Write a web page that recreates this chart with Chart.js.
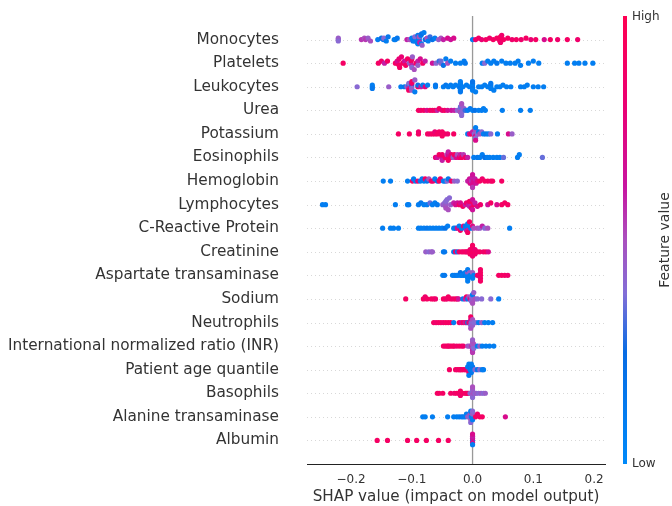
<!DOCTYPE html>
<html>
<head>
<meta charset="utf-8">
<script src="https://cdn.jsdelivr.net/npm/chart.js@4.4.1/dist/chart.umd.min.js"></script>
<style>
  html, body { margin: 0; padding: 0; background: #fff; }
  #wrap { width: 672px; height: 506px; }
</style>
</head>
<body>
<div id="wrap"><canvas id="shap"></canvas></div>
<script>
// feature names, top to bottom
const features = [
  "Monocytes", "Platelets", "Leukocytes", "Urea", "Potassium", "Eosinophils",
  "Hemoglobin", "Lymphocytes", "C-Reactive Protein", "Creatinine",
  "Aspartate transaminase", "Sodium", "Neutrophils",
  "International normalized ratio (INR)", "Patient age quantile", "Basophils",
  "Alanine transaminase", "Albumin"
];

// [shap value, feature value (0 = low, 1 = high)]
const monocytes = [
  [-0.221,.42],[-0.221,.45],[-0.221,.40],
  [-0.183,.55],[-0.178,.5],[-0.176,.55],[-0.172,.45],[-0.168,.5],
  [-0.156,.1],[-0.150,.2],[-0.147,.15],[-0.146,.4],[-0.142,.1],[-0.139,.15],
  [-0.129,.1],[-0.127,.1],[-0.124,.15],
  [-0.108,.6],[-0.104,.5],[-0.1,.1],[-0.098,.15],[-0.095,.1],[-0.095,.2],[-0.095,.1],[-0.095,.4],
  [-0.091,.1],[-0.09,.15],[-0.09,.1],[-0.088,.1],[-0.088,.15],[-0.088,.1],[-0.088,.5],
  [-0.087,.6],[-0.085,.1],[-0.084,.1],[-0.084,.2],[-0.083,.45],[-0.08,.1],[-0.078,.2],
  [-0.075,.5],[-0.073,.1],[-0.07,.3],
  [-0.066,.2],[-0.062,.1],[-0.056,.45],[-0.052,.5],[-0.048,.6],[-0.041,.7],[-0.036,.65],[-0.031,.7],
  [0.000,.1],
  [0.005,.85],[0.01,.9],[0.015,.8],[0.022,.9],[0.028,.85],[0.034,.9],
  [0.04,.9],[0.044,.85],[0.045,.9],[0.045,.9],[0.046,.95],[0.046,.85],[0.048,.85],[0.051,.9],
  [0.058,.9],[0.065,.85],[0.072,.9],[0.08,.85],[0.088,.9],[0.096,.8],[0.104,.9],[0.118,.7],
  [0.128,.9],[0.14,.85],[0.156,.9],[0.173,.85]
];
const platelets = [
  [-0.213,.9],
  [-0.155,.9],[-0.15,.85],[-0.145,.6],[-0.14,.9],
  [-0.127,.9],[-0.124,.85],[-0.124,.7],[-0.121,.9],[-0.121,.8],[-0.12,.9],[-0.117,.8],
  [-0.115,.9],[-0.112,.65],[-0.11,.9],
  [-0.107,.9],[-0.104,.45],[-0.101,.9],[-0.1,.6],[-0.1,.9],[-0.1,.4],[-0.099,.45],[-0.096,.5],
  [-0.093,.9],[-0.09,.6],[-0.09,.45],[-0.086,.7],[-0.082,.9],[-0.078,.6],
  [-0.066,.65],[-0.06,.4],[-0.055,.3],[-0.052,.45],[-0.052,.35],[-0.048,.2],[-0.044,.1],[-0.041,.5],
  [-0.036,.1],[-0.028,.1],[-0.02,.1],[-0.014,.1],[-0.012,.15],
  [0.016,.1],[0.02,.4],[0.025,.1],[0.03,.1],[0.035,.1],[0.04,.15],[0.048,.1],[0.055,.1],
  [0.062,.1],[0.07,.1],[0.075,.1],[0.079,.1],
  [0.092,.1],[0.1,.1],[0.109,.1],
  [0.156,.1],[0.168,.1],[0.175,.1],[0.185,.1],[0.198,.1]
];
const leukocytes = [
  [-0.19,.4],
  [-0.165,.1],[-0.165,.1],[-0.165,.15],
  [-0.138,.45],
  [-0.118,.1],[-0.112,.15],[-0.108,.45],[-0.105,.1],[-0.105,.6],[-0.105,.4],[-0.105,.9],
  [-0.1,.5],[-0.1,.2],[-0.1,.4],[-0.1,.8],[-0.1,.45],[-0.1,.9],[-0.095,.1],[-0.095,.45],
  [-0.09,.9],[-0.09,.2],[-0.085,.6],[-0.082,.1],[-0.078,.75],[-0.074,.1],
  [-0.061,.1],[-0.061,.15],
  [-0.048,.1],[-0.044,.15],[-0.04,.1],[-0.036,.1],[-0.032,.1],[-0.028,.1],[-0.022,.1],
  [-0.02,.1],[-0.02,.15],[-0.02,.1],[-0.02,.1],[-0.02,.1],[-0.02,.15],[-0.016,.1],[-0.01,.1],
  [-0.005,.1],[0.0,.1],[0.0,.1],[0.0,.15],[0.0,.1],[0.0,.1],[0.0,.2],
  [0.005,.1],[0.01,.1],[0.015,.1],[0.02,.1],[0.025,.1],[0.03,.1],[0.03,.1],[0.03,.1],[0.03,.15],
  [0.035,.1],[0.04,.1],[0.045,.1],[0.05,.1],[0.056,.1],[0.063,.1],
  [0.079,.1],[0.085,.1],[0.09,.1],[0.1,.1],[0.108,.1],[0.117,.1]
];
const urea = [
  [-0.089,.9],[-0.085,.85],[-0.08,.9],[-0.075,.7],[-0.07,.9],[-0.066,.85],[-0.062,.9],
  [-0.058,.6],[-0.055,.9],[-0.05,.8],[-0.046,.9],[-0.041,.7],
  [-0.035,.65],[-0.03,.6],
  [-0.025,.4],[-0.022,.45],[-0.02,.4],[-0.02,.5],[-0.02,.35],[-0.018,.4],[-0.018,.45],
  [-0.018,.4],[-0.018,.5],[-0.016,.4],[-0.014,.45],[-0.012,.3],
  [-0.008,.1],[-0.004,.15],[0.0,.1],[0.004,.2],[0.01,.1],[0.015,.1],[0.018,.1],[0.021,.1],
  [0.049,.1],[0.079,.1],[0.095,.1]
];
const potassium = [
  [-0.122,.9],[-0.104,.9],[-0.089,.9],[-0.089,.85],
  [-0.074,.9],[-0.07,.85],[-0.066,.9],[-0.062,.9],[-0.062,.8],[-0.058,.9],[-0.055,.9],
  [-0.052,.85],[-0.05,.9],[-0.05,.9],[-0.046,.9],[-0.041,.85],
  [-0.031,.9],
  [-0.008,.1],[-0.005,.7],[-0.002,.9],[0.0,.6],[0.003,.4],[0.005,.45],[0.005,.7],[0.005,.5],
  [0.005,.4],[0.005,.1],[0.005,.7],[0.008,.4],
  [0.01,.1],[0.012,.5],[0.015,.4],[0.018,.1],[0.022,.15],[0.026,.1],[0.03,.4],
  [0.041,.1],[0.059,.7],[0.065,.45]
];
const eosinophils = [
  [-0.061,.8],[-0.058,.65],[-0.055,.9],[-0.05,.7],[-0.05,.85],[-0.05,.6],[-0.045,.9],
  [-0.042,.5],[-0.04,.85],[-0.04,.7],[-0.04,.9],[-0.04,.6],[-0.036,.9],[-0.035,.8],
  [-0.032,.45],[-0.03,.9],[-0.027,.7],[-0.025,.5],
  [-0.022,.8],[-0.02,.6],[-0.018,.9],[-0.015,.55],[-0.012,.85],[-0.008,.6],
  [0.002,.1],[0.008,.15],[0.012,.1],[0.016,.1],[0.02,.2],[0.024,.1],[0.028,.1],[0.034,.1],
  [0.04,.1],[0.045,.1],[0.051,.35],
  [0.074,.1],[0.077,.1],[0.115,.35]
];
const hemoglobin = [
  [-0.147,.1],[-0.135,.1],[-0.107,.1],
  [-0.099,.9],[-0.097,.1],[-0.094,.1],[-0.09,.85],[-0.086,.1],[-0.083,.1],[-0.08,.1],
  [-0.078,.9],[-0.075,.15],[-0.072,.5],[-0.068,.9],[-0.065,.85],[-0.062,.1],[-0.058,.2],
  [-0.055,.9],[-0.053,.9],
  [-0.048,.1],[-0.045,.1],[-0.042,.4],[-0.04,.15],[-0.035,.9],[-0.03,.45],[-0.025,.4],
  [-0.008,.6],[-0.005,.65],[-0.004,.7],[-0.002,.55],[0.0,.6],[0.0,.65],[0.0,.6],[0.0,.7],
  [0.0,.65],[0.0,.55],[0.002,.7],[0.004,.6],[0.006,.65],[0.008,.75],
  [0.012,.9],[0.016,.85],[0.02,.9],[0.025,.9],[0.03,.85],[0.033,.9],[0.048,.9]
];
const lymphocytes = [
  [-0.247,.1],[-0.242,.1],
  [-0.127,.1],[-0.107,.1],[-0.105,.1],
  [-0.089,.1],[-0.085,.15],[-0.08,.1],[-0.075,.1],[-0.07,.35],[-0.066,.1],[-0.062,.1],[-0.058,.15],
  [-0.049,.45],[-0.046,.4],[-0.044,.5],[-0.044,.45],[-0.044,.45],[-0.044,.4],[-0.044,.5],
  [-0.042,.4],[-0.04,.5],[-0.038,.4],[-0.036,.45],
  [-0.031,.6],[-0.028,.7],[-0.025,.65],[-0.022,.9],[-0.02,.7],[-0.016,.9],[-0.012,.6],
  [-0.01,.85],[-0.006,.6],[-0.005,.7],[-0.005,.6],[-0.005,.9],[-0.002,.8],[0.0,.65],[0.0,.65],
  [0.002,.9],[0.004,.6],[0.008,.7],[0.013,.85],
  [0.025,.65],[0.03,.9],[0.04,.7],[0.048,.9],[0.053,.9],[0.058,.9]
];
const crp = [
  [-0.148,.1],[-0.135,.1],[-0.13,.1],[-0.122,.1],
  [-0.089,.1],[-0.085,.1],[-0.08,.1],[-0.075,.15],[-0.07,.1],[-0.065,.1],[-0.06,.1],
  [-0.055,.1],[-0.05,.1],[-0.045,.2],[-0.041,.1],
  [-0.031,.1],[-0.028,.15],[-0.025,.7],[-0.022,.1],[-0.02,.9],[-0.018,.1],[-0.015,.8],
  [-0.012,.1],[-0.012,.15],[-0.01,.6],[-0.008,.1],[-0.008,.1],[-0.008,.6],[-0.008,.1],
  [-0.008,.9],[-0.005,.9],[-0.003,.1],[0.0,.75],[0.002,.5],
  [0.008,.5],[0.012,.45],[0.016,.6],[0.02,.4],[0.025,.5],
  [0.061,.1]
];
const creatinine = [
  [-0.077,.45],[-0.072,.4],[-0.068,.45],[-0.066,.45],
  [-0.048,.1],[-0.046,.15],
  [-0.031,.1],[-0.028,.9],[-0.025,.1],[-0.022,.85],[-0.018,.9],[-0.015,.85],[-0.012,.9],
  [-0.01,.9],[-0.008,.8],[-0.006,.9],[-0.004,.85],[-0.004,.9],[-0.002,.9],[0.0,.9],[0.0,.85],
  [0.0,.9],[0.0,.9],[0.0,.85],[0.0,.9],[0.002,.9],
  [0.004,.8],[0.004,.85],[0.006,.9],[0.008,.85],[0.012,.9],
  [0.018,.85],[0.022,.9],[0.026,.7]
];
const ast = [
  [-0.049,.1],[-0.046,.15],
  [-0.033,.1],[-0.03,.1],[-0.027,.15],[-0.024,.1],[-0.02,.1],[-0.02,.2],[-0.018,.1],
  [-0.015,.1],[-0.012,.15],[-0.012,.1],[-0.01,.1],[-0.008,.5],[-0.008,.1],[-0.008,.1],
  [-0.008,.1],[-0.006,.1],[-0.005,.45],[-0.004,.1],
  [-0.002,.1],[0.0,.45],[0.0,.1],[0.002,.1],
  [0.008,.85],[0.013,.9],[0.013,.9],[0.013,.85],[0.013,.9],[0.013,.9],
  [0.043,.9],[0.048,.9],[0.053,.9],[0.058,.85]
];
const sodium = [
  [-0.11,.9],
  [-0.081,.9],[-0.078,.85],[-0.075,.9],[-0.068,.9],[-0.064,.9],[-0.061,.85],
  [-0.048,.9],[-0.045,.9],[-0.042,.85],[-0.04,.9],[-0.036,.9],[-0.032,.85],[-0.028,.9],
  [-0.025,.9],[-0.023,.65],
  [-0.016,.1],[-0.012,.6],[-0.01,.9],[-0.008,.15],[-0.006,.5],[-0.004,.7],[-0.002,.45],
  [-0.002,.4],[0.0,.5],[0.0,.4],[0.0,.45],[0.0,.1],[0.0,.5],[0.002,.45],[0.004,.5],[0.008,.4],
  [0.015,.4],[0.03,.4],[0.043,.1]
];
const neutrophils = [
  [-0.064,.9],[-0.06,.85],[-0.056,.9],[-0.052,.9],[-0.048,.85],[-0.044,.9],[-0.04,.9],[-0.036,.9],
  [-0.031,.1],
  [-0.022,.9],[-0.018,.7],[-0.015,.9],[-0.012,.6],[-0.01,.85],[-0.008,.1],[-0.006,.9],
  [-0.004,.65],[-0.003,.65],[-0.003,.4],[-0.003,.9],[-0.003,.5],[-0.002,.4],[0.0,.5],[0.0,.45],
  [0.002,.4],
  [0.006,.4],[0.01,.1],[0.015,.45],[0.02,.1],[0.026,.1],[0.033,.1]
];
const inr = [
  [-0.048,.9],[-0.045,.85],[-0.042,.9],[-0.04,.9],[-0.038,.85],[-0.035,.9],[-0.032,.9],
  [-0.03,.9],[-0.026,.85],[-0.022,.9],[-0.018,.9],[-0.015,.85],
  [-0.008,.5],[-0.005,.45],[-0.003,.5],[-0.001,.6],[0.0,.45],[0.0,.5],[0.0,.5],[0.0,.6],
  [0.0,.45],[0.0,.55],[0.001,.45],[0.002,.5],[0.002,.4],
  [0.008,.1],[0.012,.45],[0.016,.1],[0.022,.1],[0.028,.1],[0.035,.1]
];
const ageQuantile = [
  [-0.038,.9],
  [-0.028,.9],[-0.025,.85],[-0.022,.9],[-0.02,.9],[-0.018,.85],[-0.015,.9],[-0.012,.9],
  [-0.01,.85],[-0.008,.9],[-0.006,.65],[-0.006,.9],[-0.006,.85],
  [-0.008,.1],[-0.006,.1],[-0.006,.1],[-0.004,.1],[-0.004,.15],[-0.002,.1],[-0.002,.1],
  [-0.002,.15],[0.0,.1],[0.0,.15],[-0.002,.1],
  [0.004,.4],[0.008,.15],[0.012,.4],[0.016,.1],[0.018,.1]
];
const basophils = [
  [-0.058,.9],[-0.055,.9],[-0.049,.9],
  [-0.036,.9],[-0.03,.85],[-0.026,.9],[-0.022,.9],[-0.02,.8],[-0.02,.9],[-0.02,.85],
  [-0.016,.9],[-0.012,.85],[-0.01,.9],[-0.008,.9],[-0.006,.85],
  [-0.004,.4],[-0.002,.45],[0.0,.5],[0.0,.4],[0.0,.45],[0.0,.45],[0.0,.4],[0.0,.5],
  [0.002,.5],[0.004,.4],[0.006,.45],
  [0.01,.4],[0.014,.45],[0.018,.4],[0.021,.45]
];
const alt = [
  [-0.082,.1],[-0.078,.1],[-0.066,.1],
  [-0.041,.1],
  [-0.031,.1],[-0.026,.1],[-0.022,.1],[-0.018,.15],[-0.015,.1],[-0.012,.1],[-0.01,.1],
  [-0.008,.45],[-0.005,.4],[-0.004,.5],[-0.003,.45],[-0.003,.1],[-0.003,.4],[-0.002,.1],
  [0.0,.45],[0.0,.1],[0.0,.4],
  [0.005,.9],[0.008,.85],[0.012,.9],[0.016,.9],
  [0.054,.7]
];
const albumin = [
  [-0.157,.9],[-0.14,.9],[-0.107,.9],[-0.092,.9],[-0.076,.9],[-0.056,.9],[-0.04,.9],
  [0.0,.1],[0.0,.65],[0.0,.7],[0.0,.6],[0.0,.1],[0.0,.7]
];

const rows = [monocytes, platelets, leukocytes, urea, potassium, eosinophils, hemoglobin,
  lymphocytes, crp, creatinine, ast, sodium, neutrophils, inr, ageQuantile, basophils, alt, albumin];

const xTicks = [-0.2, -0.1, 0.0, 0.1, 0.2];

// red-blue colormap, low -> high
const cmap = [
  [0.00, [0, 138, 250]],
  [0.25, [8, 108, 228]],
  [0.38, [130, 110, 215]],
  [0.50, [170, 80, 190]],
  [0.62, [200, 20, 160]],
  [0.80, [235, 0, 115]],
  [1.00, [255, 0, 82]]
];
function colorAt(t) {
  for (let i = 1; i < cmap.length; i++) {
    if (t <= cmap[i][0]) {
      const [t0, c0] = cmap[i - 1], [t1, c1] = cmap[i];
      const f = (t - t0) / (t1 - t0);
      const c = c0.map((v, k) => Math.round(v + (c1[k] - v) * f));
      return `rgb(${c[0]},${c[1]},${c[2]})`;
    }
  }
  return "rgb(255,0,82)";
}

// beeswarm offsets, same idea as shap's summary plot
function swarm(points) {
  const xs = points.map(p => p[0]);
  const lo = Math.min(...xs), hi = Math.max(...xs);
  const nbins = 40;
  const quant = xs.map(x => Math.round(nbins * (x - lo) / (hi - lo + 1e-8)));
  const order = xs.map((_, i) => i).sort((a, b) => quant[a] - quant[b] || a - b);
  const ys = new Array(xs.length).fill(0);
  let layer = 0, lastBin = -1;
  order.forEach(i => {
    if (quant[i] !== lastBin) layer = 0;
    ys[i] = Math.ceil(layer / 2) * ((layer % 2) * 2 - 1);
    layer++;
    lastBin = quant[i];
  });
  const top = Math.max(...ys.map(y => y + 1));
  return ys.map(y => y * 0.9 * 0.4 / top);
}

const points = [];
rows.forEach((pts, r) => {
  const off = swarm(pts);
  pts.forEach((p, i) => points.push({ x: p[0], y: r - off[i], c: p[1] }));
});

// dotted row guides and the zero line
const guides = {
  id: "guides",
  beforeDatasetsDraw(chart) {
    const { ctx, chartArea, scales } = chart;
    ctx.save();
    ctx.strokeStyle = "#d8d8d8";
    ctx.lineWidth = 1;
    ctx.setLineDash([1, 3]);
    features.forEach((_, i) => {
      const y = Math.round(scales.y.getPixelForValue(i)) + 0.5;
      ctx.beginPath();
      ctx.moveTo(chartArea.left, y);
      ctx.lineTo(chartArea.right, y);
      ctx.stroke();
    });
    ctx.setLineDash([]);
    ctx.strokeStyle = "#999999";
    ctx.lineWidth = 1.3;
    const x0 = scales.x.getPixelForValue(0);
    ctx.beginPath();
    ctx.moveTo(x0, chartArea.top);
    ctx.lineTo(x0, chartArea.bottom);
    ctx.stroke();
    ctx.restore();
  }
};

// colour bar on the right
const colorBar = {
  id: "colorBar",
  afterDraw(chart) {
    const { ctx, chartArea } = chart;
    const x = chartArea.right + 18, w = 4;
    const top = chartArea.top, bottom = chartArea.bottom;
    const grad = ctx.createLinearGradient(0, bottom, 0, top);
    cmap.forEach(([t]) => grad.addColorStop(t, colorAt(t)));
    ctx.save();
    ctx.fillStyle = grad;
    ctx.fillRect(x, top, w, bottom - top);
    ctx.fillStyle = "#333333";
    ctx.font = "12px 'DejaVu Sans'";
    ctx.textAlign = "left";
    ctx.textBaseline = "middle";
    ctx.fillText("High", x + w + 5, top + 1);
    ctx.fillText("Low", x + w + 5, bottom);
    ctx.font = "14px 'DejaVu Sans'";
    ctx.translate(x + 42, (top + bottom) / 2);
    ctx.rotate(-Math.PI / 2);
    ctx.textAlign = "center";
    ctx.fillText("Feature value", 0, 0);
    ctx.restore();
  }
};

Chart.defaults.font.family = "'DejaVu Sans', sans-serif";
Chart.defaults.color = "#333333";

new Chart(document.getElementById("shap"), {
  type: "scatter",
  data: {
    datasets: [{
      data: points,
      pointRadius: 2.6,
      pointBorderWidth: 0,
      pointBackgroundColor: ctx => colorAt(ctx.raw ? ctx.raw.c : 0.5)
    }]
  },
  options: {
    responsive: true,
    maintainAspectRatio: false,
    animation: false,
    layout: { padding: { top: 16, right: 67, left: 0, bottom: 0 } },
    plugins: { legend: { display: false }, tooltip: { enabled: false } },
    scales: {
      x: {
        type: "linear",
        min: -0.2725,
        max: 0.218,
        grid: { display: false, drawTicks: false },
        border: { display: true, color: "#222222", width: 1 },
        afterBuildTicks: scale => { scale.ticks = xTicks.map(v => ({ value: v })); },
        afterFit: scale => { scale.height = 42; scale.paddingLeft = 0; scale.paddingRight = 0; },
        ticks: {
          padding: 9,
          font: { size: 12 },
          callback: v => v.toFixed(1).replace("-", "\u2212")
        },
        title: {
          display: true,
          text: "SHAP value (impact on model output)",
          font: { size: 15.2 },
          padding: { top: 0, bottom: 0 }
        }
      },
      y: {
        type: "linear",
        min: -1,
        max: 18,
        reverse: true,
        grid: { display: false, drawTicks: false },
        border: { display: false },
        afterBuildTicks: scale => { scale.ticks = features.map((_, i) => ({ value: i })); },
        afterFit: scale => { scale.width = 307; scale.paddingTop = 0; scale.paddingBottom = 0; },
        ticks: {
          autoSkip: false,
          padding: 28,
          font: { size: 15.3 },
          callback: v => features[v]
        }
      }
    }
  },
  plugins: [guides, colorBar]
});
</script>
</body>
</html>
